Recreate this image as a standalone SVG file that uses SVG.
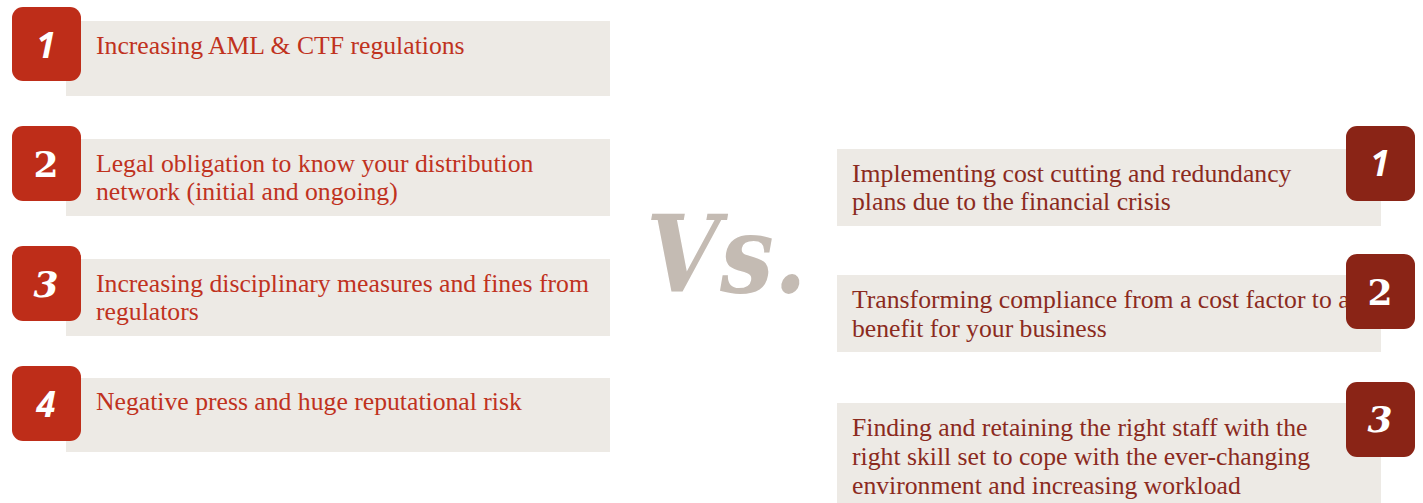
<svg xmlns="http://www.w3.org/2000/svg" width="1423" height="503" viewBox="0 0 1423 503">
  <style>
    .box { fill: #EDEAE5; }
    .badgeL { fill: #BE2D19; }
    .badgeR { fill: #8A2416; }
    .num { fill: #FFFFFF; text-anchor: middle; font-weight: bold; }
    .numSans { font-family: "Open Sans", "DejaVu Sans", sans-serif; font-style: italic; font-size: 35px; }
    .numSlab { font-family: "DejaVu Serif", "Liberation Serif", serif; font-size: 36px; }
    .numSlabIt { font-family: "DejaVu Serif", "Liberation Serif", serif; font-style: italic; font-size: 36px; }
    .txtL { font-family: "Liberation Serif", "DejaVu Serif", serif; font-size: 25.7px; fill: #C0321E; }
    .txtR { font-family: "Liberation Serif", "DejaVu Serif", serif; font-size: 25.7px; fill: #8B2A1E; }
    .vs { font-family: "DejaVu Serif", "Liberation Serif", serif; font-stretch: condensed; font-style: italic; font-weight: bold; font-size: 106px; fill: #C4BBB3; }
  </style>

  <!-- left column: drivers -->
  <g id="left-1">
    <rect class="box" x="66" y="21" width="544" height="75"/>
    <rect class="badgeL" x="12" y="7" width="69" height="74" rx="11"/>
    <text class="num numSans" x="46" y="58">1</text>
    <text class="txtL" x="96" y="54">Increasing AML &amp; CTF regulations</text>
  </g>
  <g id="left-2">
    <rect class="box" x="66" y="139" width="544" height="77"/>
    <rect class="badgeL" x="12" y="126" width="69" height="75" rx="11"/>
    <text class="num numSlab" x="46" y="177">2</text>
    <text class="txtL" x="96" y="172">Legal obligation to know your distribution</text>
    <text class="txtL" x="96" y="200">network (initial and ongoing)</text>
  </g>
  <g id="left-3">
    <rect class="box" x="66" y="259" width="544" height="77"/>
    <rect class="badgeL" x="12" y="246" width="69" height="75" rx="11"/>
    <text class="num numSlabIt" x="46" y="297">3</text>
    <text class="txtL" x="96" y="292">Increasing disciplinary measures and fines from</text>
    <text class="txtL" x="96" y="320">regulators</text>
  </g>
  <g id="left-4">
    <rect class="box" x="66" y="378" width="544" height="74"/>
    <rect class="badgeL" x="12" y="366" width="69" height="75" rx="11"/>
    <text class="num numSans" x="46" y="417">4</text>
    <text class="txtL" x="96" y="410">Negative press and huge reputational risk</text>
  </g>

  <!-- centre label -->
  <g id="versus">
    <text class="vs" x="646" y="292">Vs.</text>
  </g>

  <!-- right column: constraints -->
  <g id="right-1">
    <rect class="box" x="837" y="149" width="544" height="77"/>
    <text class="txtR" x="852" y="182">Implementing cost cutting and redundancy</text>
    <text class="txtR" x="852" y="210">plans due to the financial crisis</text>
    <rect class="badgeR" x="1346" y="126" width="69" height="75" rx="11"/>
    <text class="num numSans" x="1380" y="176">1</text>
  </g>
  <g id="right-2">
    <rect class="box" x="837" y="275" width="544" height="77"/>
    <text class="txtR" x="852" y="308">Transforming compliance from a cost factor to a</text>
    <text class="txtR" x="852" y="337">benefit for your business</text>
    <rect class="badgeR" x="1346" y="254" width="69" height="75" rx="11"/>
    <text class="num numSlab" x="1380" y="305">2</text>
  </g>
  <g id="right-3">
    <rect class="box" x="837" y="403" width="544" height="100"/>
    <text class="txtR" x="852" y="436">Finding and retaining the right staff with the</text>
    <text class="txtR" x="852" y="465">right skill set to cope with the ever-changing</text>
    <text class="txtR" x="852" y="494">environment and increasing workload</text>
    <rect class="badgeR" x="1346" y="382" width="69" height="75" rx="11"/>
    <text class="num numSlabIt" x="1380" y="432">3</text>
  </g>
</svg>
